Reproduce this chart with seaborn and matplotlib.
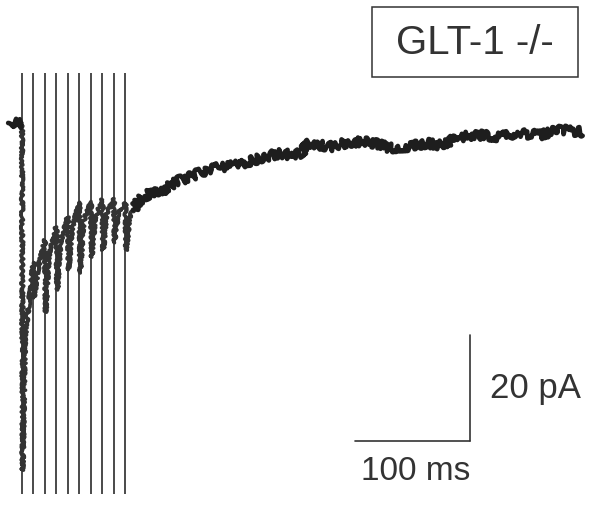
import matplotlib
matplotlib.use("Agg")
import matplotlib.pyplot as plt
from matplotlib.patches import Rectangle
import numpy as np
import pandas as pd
import seaborn as sns

# Stimulus train: 10 pulses at 100 Hz (ms)
stim_times = [0, 10, 20, 30, 40, 50, 60, 70, 80, 90]
# Stimulus artifact extent (pA)
artifact_top = 9.4
artifact_bottom = -70.0

# Current level just before each pulse, and the peak just after it (pA)
pre_pulse_I = [0.0, -26.4, -22.1, -19.6, -17.7, -15.1, -15.1, -14.5, -14.5, -15.1]
peak_I = [-65.5, -33.0, -35.7, -31.5, -27.7, -28.3, -25.3, -24.0, -22.6, -24.0]
# Partial recovery a few ms after each peak (pA)
mid_I = [-40.9, -28.0, -25.0, -22.5, -20.0, -18.5, -18.0, -17.0, -17.0, -18.0]
mid_offset = [2.6, 3.5, 3.5, 3.5, 3.5, 3.5, 3.5, 3.5, 3.5, 3.5]

# Pre-stimulus baseline (ms, pA)
baseline_t = [-12.0, -8.0, -4.0, -0.3]
baseline_I = [0.0, 0.3, -0.4, 0.0]

# Slow decay after the train (ms, pA)
tail_t = [96.5, 102.6, 111.3, 120.0, 137.4, 154.8, 172.2, 189.6, 207.0, 224.3,
          233.0, 241.7, 250.4, 267.8, 285.2, 302.6, 320.0, 337.4, 352.2, 363.5,
          380.9, 398.3, 415.7, 433.0, 450.4, 467.8, 487.8]
tail_I = [-16.4, -14.5, -13.2, -13.0, -10.8, -9.4, -8.3, -7.9, -6.6, -5.7,
          -6.0, -5.7, -3.8, -4.5, -3.6, -3.6, -4.7, -4.4, -3.8, -4.2,
          -2.6, -2.3, -2.6, -1.9, -2.3, -1.3, -1.7]

# Scale bars
bar_t0, bar_len_ms = 290.0, 100.0
bar_I0, bar_len_pA = -60.0, 20.0

# ---- assemble the train response from the pulse readings ----
train_t, train_I = [], []
for k, t0 in enumerate(stim_times):
    train_t += [t0, t0 + 0.6, t0 + mid_offset[k]]
    train_I += [pre_pulse_I[k], peak_I[k], mid_I[k]]
    if k + 1 < len(stim_times):
        train_t.append(stim_times[k + 1] - 0.3)
        train_I.append(pre_pulse_I[k + 1])
train_t.append(tail_t[0])
train_I.append(tail_I[0])

df_base = pd.DataFrame({"t": baseline_t, "I": baseline_I})
df_train = pd.DataFrame({"t": train_t, "I": train_I})
df_tail = pd.DataFrame({"t": tail_t, "I": tail_I})

sns.set_theme(style="white")
plt.rcParams["font.family"] = ["Liberation Sans", "DejaVu Sans"]

fig = plt.figure(figsize=(5.91, 5.07), dpi=100)
ax = fig.add_axes([0, 0, 1, 1])
ax.set_xlim(-19.13, 494.8)
ax.set_ylim(-72.45, 23.2)
ax.axis("off")

trace_color = "#1e1e1e"

# Stimulus artifacts
ax.vlines(stim_times, artifact_bottom, artifact_top, colors="#3c3c3c", lw=1.3, zorder=2)

# Current trace
sns.lineplot(data=df_train, x="t", y="I", sort=False, estimator=None, ax=ax,
             color="#333333", lw=2.6, zorder=3)
for d in (df_base, df_tail):
    sns.lineplot(data=d, x="t", y="I", sort=False, estimator=None, ax=ax,
                 color=trace_color, lw=3.4, zorder=3)
lines = ax.get_lines()
for line in lines:
    line.set_solid_joinstyle("round")
# recording-noise texture on the trace
lines[0].set_sketch_params(scale=1.5, length=4.0, randomness=6.0)
for line in lines[1:]:
    line.set_sketch_params(scale=4.5, length=4.0, randomness=12.0)

# Scale bars
ax.plot([bar_t0, bar_t0 + bar_len_ms], [bar_I0, bar_I0], color="#333333", lw=1.2)
ax.plot([bar_t0 + bar_len_ms, bar_t0 + bar_len_ms], [bar_I0, bar_I0 + bar_len_pA],
        color="#333333", lw=1.2)
ax.text(bar_t0 + bar_len_ms + 17, bar_I0 + bar_len_pA / 2, "20 pA", fontsize=25,
        ha="left", va="center", color="#333333")
ax.text(bar_t0 + bar_len_ms / 2 + 2, bar_I0 - 5.8, "100 ms", fontsize=24,
        ha="center", va="center", color="#333333")

# Genotype label box
ax.add_patch(Rectangle((0.629, 0.848), 0.349, 0.138, transform=ax.transAxes,
                       fill=False, edgecolor="#333333", lw=1.1))
ax.text(0.8035, 0.915, "GLT-1 -/-", transform=ax.transAxes, fontsize=29,
        ha="center", va="center", color="#333333")

fig.savefig("out.png", dpi=100, facecolor="white")
